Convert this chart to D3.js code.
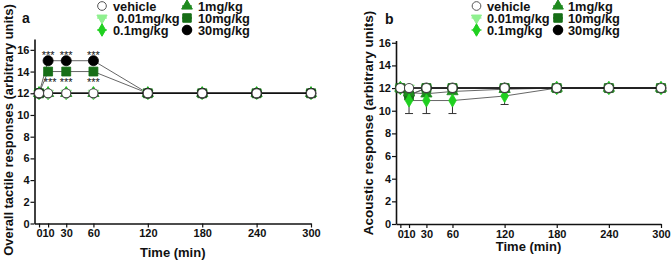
<!DOCTYPE html>
<html><head><meta charset="utf-8">
<script src="https://cdn.jsdelivr.net/npm/d3@7"></script>
<style>
body{margin:0;background:#fff;}
svg text{font-family:"Liberation Sans",Arial,sans-serif;font-weight:bold;fill:#111;}
</style></head>
<body><svg id="c" width="671" height="260"></svg>
<script>
const times = [0,10,30,60,120,180,240,300];
const xTicks = [0,10,30,60,120,180,240,300];
const yTicks = [0,2,4,6,8,10,12,14,16];
const seriesNames = ["vehicle","0.01mg/kg","0.1mg/kg","1mg/kg","10mg/kg","30mg/kg"];

// Panel a: overall tactile responses
const aVehicle = [12,12,12,12,12,12,12,12];
const a001 = [12,12,12,12,12,12,12,12];
const a01  = [12,12,12,12,12,12,12,12];
const a1   = [12,12,12,12,12,12,12,12];
const a10  = [12,14,14,14,12,12,12,12];
const a30  = [12,15,15,15,12,12,12,12];
const aStarsAbove = [null,"***","***","***",null,null,null,null]; // 30mg/kg
const aStarsBelow = [null,"***","***","***",null,null,null,null]; // 10mg/kg

// Panel b: acoustic response
const bVehicle = [12,12,12,12,12,12,12,12];
const b001 = [12,12,12,12,12,12,12,12];
const b01  = [12,10.9,10.9,10.9,11.3,12,12,12];
const b01Err = [0,1.15,1.15,1.15,0.75,0,0,0];
const b1   = [12,11.6,11.5,11.7,11.9,12,12,12];
const b10  = [12,11.35,12,12,12,12,12,12];
const b30  = [12,11.4,12,12,12,12,12,12];

const svg = d3.select("#c");

const styles = {
  "vehicle":  {sym:d3.symbolCircle,   size:66, fill:"#fff",    stroke:"#444"},
  "0.01mg/kg":{sym:d3.symbolTriangle, size:50, fill:"#8ff08f", stroke:"#8ff08f", rot:180},
  "0.1mg/kg": {sym:d3.symbolDiamond,  size:50, fill:"#1fd01f", stroke:"#1fd01f"},
  "1mg/kg":   {sym:d3.symbolTriangle, size:55, fill:"#1f8a1f", stroke:"#1f8a1f"},
  "10mg/kg":  {sym:d3.symbolSquare,   size:80, fill:"#176e17", stroke:"#176e17"},
  "30mg/kg":  {sym:d3.symbolCircle,   size:80, fill:"#000",    stroke:"#000"}
};

function panel(opt){
  const x = d3.scaleLinear().domain([-5,300]).range(opt.xr);
  const y = d3.scaleLinear().domain([0,opt.ytop]).range(opt.yr);
  const g = svg.append("g");
  const xa = g.append("g").attr("transform",`translate(0,${opt.yr[0]})`)
    .call(d3.axisBottom(x).tickValues(xTicks).tickSize(4).tickSizeOuter(0).tickPadding(2));
  const ya = g.append("g").attr("transform",`translate(${opt.xr[0]},0)`)
    .call(d3.axisLeft(y).tickValues(yTicks).tickSize(4).tickSizeOuter(0).tickPadding(1));
  [xa,ya].forEach(a=>{
    a.select(".domain").attr("stroke","#111").attr("stroke-width",1.6);
    a.selectAll(".tick line").attr("stroke","#111").attr("stroke-width",1.2);
    a.selectAll(".tick text").style("font-size","11px").style("font-family","Liberation Sans, Arial, sans-serif").style("font-weight","bold").attr("fill","#111");
  });
  g.append("text").attr("x",(x(-5)+x(300))/2).attr("y",opt.xty).attr("text-anchor","middle")
    .style("font-size","13px").text("Time (min)");
  g.append("text").attr("transform",`translate(${opt.ytx},${opt.yty}) rotate(-90)`).attr("text-anchor","middle")
    .style("font-size",opt.ytfs).text(opt.ytitle);
  g.append("text").attr("x",opt.lbl[0]).attr("y",opt.lbl[1]).style("font-size","14px").text(opt.label);

  const line = d3.line().x((d,i)=>x(times[i])).y(d=>y(d));
  ["0.01mg/kg","0.1mg/kg","1mg/kg","10mg/kg","30mg/kg"].forEach(n=>{
    g.append("path").datum(opt.data[n]).attr("d",line).attr("fill","none")
      .attr("stroke","#555").attr("stroke-width",0.9);
  });
  g.append("path").datum(opt.data["vehicle"]).attr("d",line).attr("fill","none")
    .attr("stroke","#111").attr("stroke-width",1.6);
  if(opt.err){
    opt.err.forEach(e=>{
      const vals = opt.data[e.name];
      e.err.forEach((v,i)=>{
        if(!v) return;
        const cx = x(times[i]), y0 = y(vals[i]), y1 = y(vals[i]-v);
        g.append("line").attr("x1",cx).attr("x2",cx).attr("y1",y0).attr("y2",y1).attr("stroke","#333").attr("stroke-width",1);
        g.append("line").attr("x1",cx-4).attr("x2",cx+4).attr("y1",y1).attr("y2",y1).attr("stroke","#333").attr("stroke-width",1);
      });
    });
  }
  opt.markOrder.forEach(n=>{
    const s = styles[n];
    g.selectAll(null).data(opt.data[n]).enter().append("path")
      .attr("d",d3.symbol().type(s.sym).size(s.size))
      .attr("transform",(d,i)=>`translate(${x(times[i])},${y(d)})${s.rot?" rotate("+s.rot+")":""}`)
      .attr("fill",s.fill).attr("stroke",s.stroke).attr("stroke-width",n==="vehicle"?1.1:0.8);
  });
  if(opt.stars){
    opt.stars.above.forEach((t,i)=>{ if(t) g.append("text").attr("x",x(times[i])).attr("y",y(opt.data["30mg/kg"][i])-2)
      .attr("text-anchor","middle").style("font-size","11px").style("font-weight","normal").text(t);});
    opt.stars.below.forEach((t,i)=>{ if(t) g.append("text").attr("x",x(times[i])+(i===1?2:0)).attr("y",y(opt.data["10mg/kg"][i])+14.5)
      .attr("text-anchor","middle").style("font-size","11px").style("font-weight","normal").text(t);});
  }
  const L = opt.leg;
  seriesNames.forEach((n,k)=>{
    const col = Math.floor(k/3), row = k%3;
    const sx = L.sx[col], ty = L.ry[row];
    const s = styles[n];
    if(n!=="vehicle") g.append("line").attr("x1",sx-5).attr("x2",sx+5).attr("y1",ty).attr("y2",ty).attr("stroke",s.fill).attr("stroke-width",1.2);
    g.append("path").attr("d",d3.symbol().type(s.sym).size(s.size*0.9))
      .attr("transform",`translate(${sx},${ty})${s.rot?" rotate("+s.rot+")":""}`)
      .attr("fill",s.fill).attr("stroke",n==="vehicle"?"#555":s.stroke).attr("stroke-width",1);
    g.append("text").attr("x",L.tx[col]+(n==="0.01mg/kg"?L.ind:0)).attr("y",ty+4.5).style("font-size","12.8px").text(n);
  });
}

panel({
  xr:[34.5,311], yr:[223.5,39], ytop:17, label:"a", lbl:[22,23],
  xty:257, ytx:13, yty:130, ytfs:"12.9px", ytitle:"Overall tactile responses (arbitrary units)",
  data:{"vehicle":aVehicle,"0.01mg/kg":a001,"0.1mg/kg":a01,"1mg/kg":a1,"10mg/kg":a10,"30mg/kg":a30},
  markOrder:["1mg/kg","0.1mg/kg","0.01mg/kg","10mg/kg","30mg/kg","vehicle"],
  stars:{above:aStarsAbove,below:aStarsBelow},
  leg:{sx:[102,187],tx:[113,198],ry:[6,18,30],ind:4}
});
panel({
  xr:[396,661], yr:[224,40.5], ytop:16.2, label:"b", lbl:[385,24],
  xty:250.5, ytx:373, yty:123, ytfs:"13.5px", ytitle:"Acoustic response (arbitrary units)",
  data:{"vehicle":bVehicle,"0.01mg/kg":b001,"0.1mg/kg":b01,"1mg/kg":b1,"10mg/kg":b10,"30mg/kg":b30},
  err:[{name:"0.1mg/kg",err:b01Err}],
  markOrder:["0.01mg/kg","30mg/kg","10mg/kg","1mg/kg","0.1mg/kg","vehicle"],
  leg:{sx:[476.5,558],tx:[487,568],ry:[6,18,30],ind:0}
});
</script></body></html>
